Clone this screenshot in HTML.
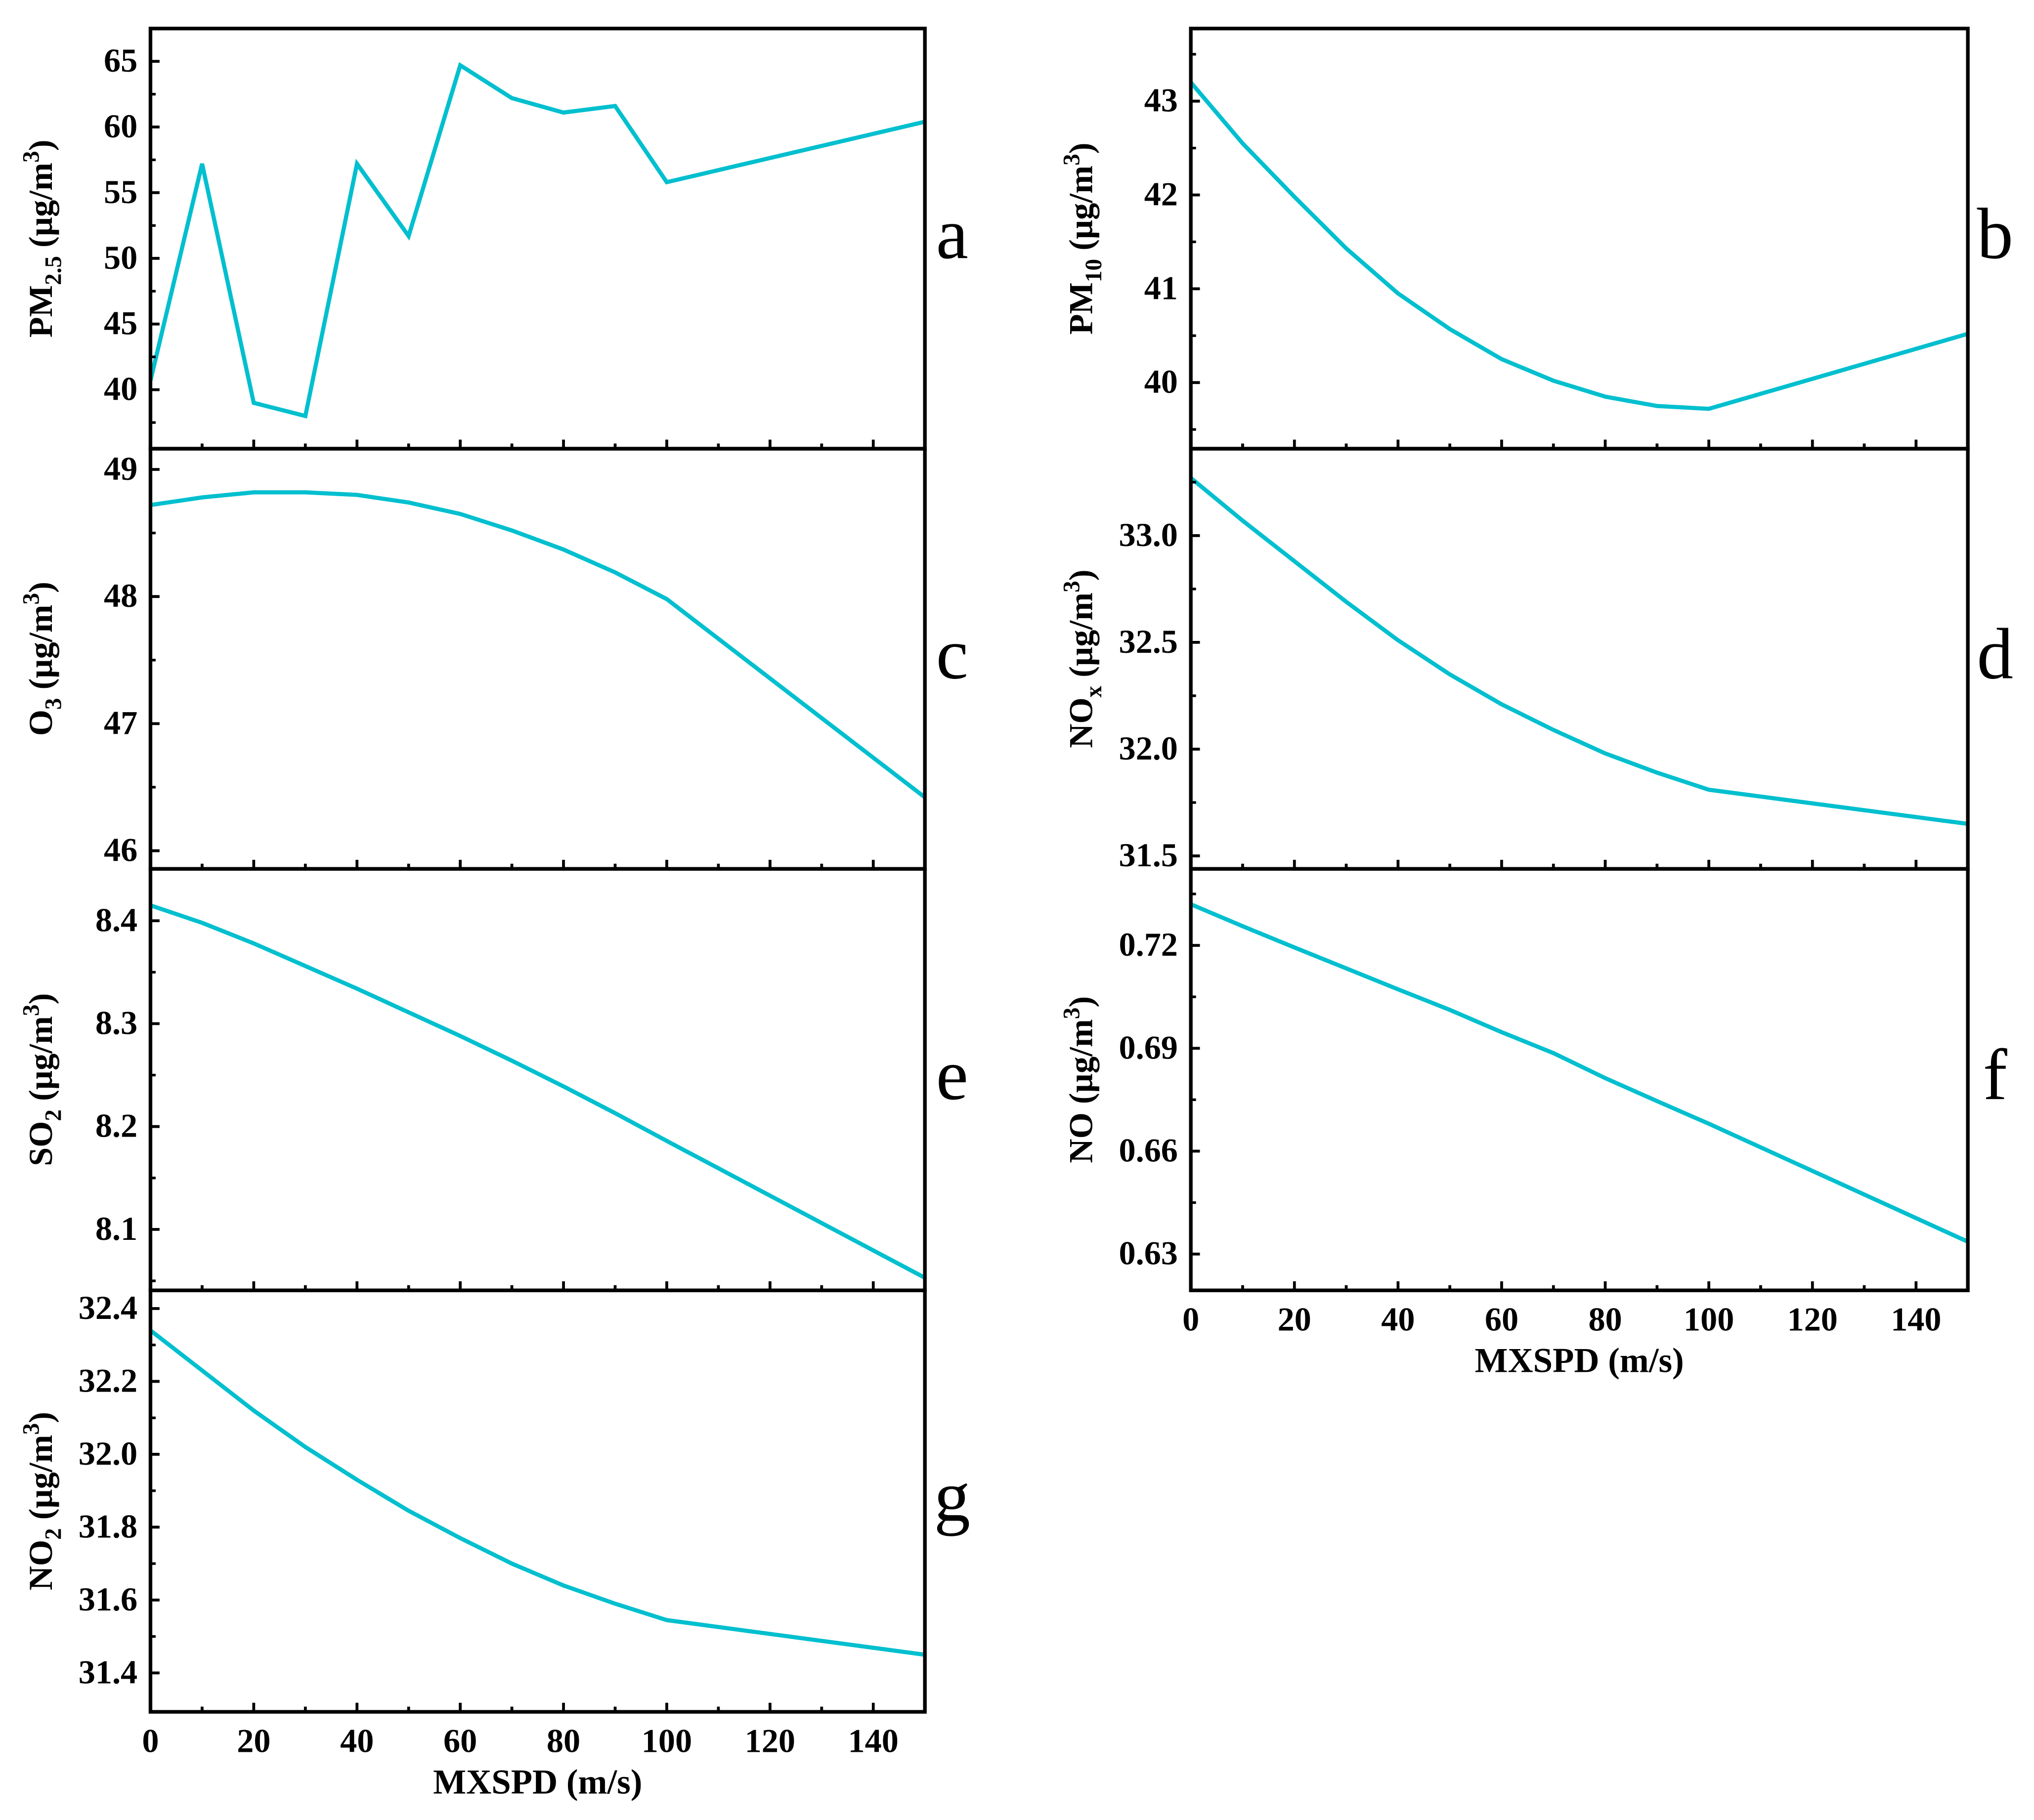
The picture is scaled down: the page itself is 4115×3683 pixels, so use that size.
<!DOCTYPE html>
<html><head><meta charset="utf-8">
<style>
html,body{margin:0;padding:0;background:#fff;}
svg{display:block;}
text{font-family:"Liberation Serif",serif;font-weight:bold;fill:#000;}
</style></head>
<body>
<svg id="chart" width="4115" height="3683" viewBox="0 0 1568 1403.4" preserveAspectRatio="none" xmlns="http://www.w3.org/2000/svg"></svg>
<script>
const xValues = [0,10,20,30,40,50,60,70,80,90,100,150];
const xTicks = [0,20,40,60,80,100,120,140];
const pm25Values = [40.7,57.2,39.0,38.0,57.2,51.7,64.7,62.2,61.1,61.6,55.8,60.4];
const pm10Values = [43.2,42.55,41.98,41.43,40.95,40.57,40.25,40.02,39.85,39.75,39.72,40.52];
const o3Values = [48.72,48.78,48.82,48.82,48.8,48.74,48.65,48.52,48.37,48.19,47.98,46.42];
const noxValues = [33.27,33.07,32.88,32.69,32.51,32.35,32.21,32.09,31.98,31.89,31.81,31.65];
const so2Values = [8.415,8.398,8.378,8.356,8.334,8.311,8.288,8.264,8.239,8.213,8.186,8.053];
const noValues = [0.732,0.7256,0.7194,0.7133,0.7072,0.7012,0.6947,0.6886,0.6813,0.6746,0.668,0.6336];
const no2Values = [32.34,32.23,32.12,32.02,31.93,31.845,31.77,31.70,31.64,31.59,31.545,31.45];
const pm25Ticks = [40,45,50,55,60,65];
const pm10Ticks = [40,41,42,43];
const o3Ticks = [46,47,48,49];
const noxTicks = [31.5,32.0,32.5,33.0];
const so2Ticks = [8.1,8.2,8.3,8.4];
const noTicks = [0.63,0.66,0.69,0.72];
const no2Ticks = [31.4,31.6,31.8,32.0,32.2,32.4];

const NS="http://www.w3.org/2000/svg";
const svg=document.getElementById('chart');
function mk(tag,attrs,parent){const e=document.createElementNS(NS,tag);for(const k in attrs)e.setAttribute(k,attrs[k]);(parent||svg).appendChild(e);return e;}

const panels=[
 {id:'a',vals:pm25Values,ticks:pm25Ticks,dec:0,x0:116,x1:713,y0:22,y1:346,r1:65,p1:47.3,r2:40,p2:300.5,title:['PM','2.5'],letter:'a',xlab:false},
 {id:'b',vals:pm10Values,ticks:pm10Ticks,dec:0,x0:918,x1:1517,y0:22,y1:346,r1:43,p1:78,r2:40,p2:295,title:['PM','10'],letter:'b',xlab:false},
 {id:'c',vals:o3Values,ticks:o3Ticks,dec:0,x0:116,x1:713,y0:346,y1:670,r1:49,p1:362,r2:46,p2:656,title:['O','3'],letter:'c',xlab:false},
 {id:'d',vals:noxValues,ticks:noxTicks,dec:1,x0:918,x1:1517,y0:346,y1:670,r1:33,p1:413,r2:31.5,p2:660,title:['NO','x'],letter:'d',xlab:false},
 {id:'e',vals:so2Values,ticks:so2Ticks,dec:1,x0:116,x1:713,y0:670,y1:995,r1:8.4,p1:710,r2:8.1,p2:948,title:['SO','2'],letter:'e',xlab:false},
 {id:'f',vals:noValues,ticks:noTicks,dec:2,x0:918,x1:1517,y0:670,y1:995,r1:0.72,p1:729,r2:0.63,p2:967,title:['NO',''],letter:'f',xlab:true},
 {id:'g',vals:no2Values,ticks:no2Ticks,dec:1,x0:116,x1:713,y0:995,y1:1320,r1:32.4,p1:1009,r2:31.4,p2:1290,title:['NO','2'],letter:'g',xlab:true}
];

panels.forEach(p=>{
  const g=mk('g',{});
  
  
  const xs=v=>p.x0+(v-0)/150*(p.x1-p.x0);
  const ys=v=>p.p1+(v-p.r1)/(p.r2-p.r1)*(p.p2-p.p1);
  const cp=mk('clipPath',{id:'clip-'+p.id},g);
  mk('rect',{x:p.x0,y:p.y0,width:p.x1-p.x0,height:p.y1-p.y0},cp);
  let d='';
  p.vals.forEach((v,i)=>{d+=(i?'L':'M')+xs(xValues[i]).toFixed(2)+','+ys(v).toFixed(2);});
  const line=mk('path',{d:d,fill:'none',stroke:'#00bfcf','stroke-width':3.2,'stroke-linejoin':'miter','clip-path':'url(#clip-'+p.id+')'},g);
  
  
  const fr=mk('rect',{x:p.x0,y:p.y0,width:p.x1-p.x0,height:p.y1-p.y0,fill:'none',stroke:'#000','stroke-width':2.8},g);
  
  
  const step=p.ticks[1]-p.ticks[0];
  for(let k=-1;k<p.ticks.length;k++){
    const v=p.ticks[0]+k*step;
    if(k>=0){
      const yy=ys(v);
      mk('line',{x1:p.x0,x2:p.x0+7,y1:yy,y2:yy,stroke:'#000','stroke-width':2.2},g);
      const t=mk('text',{x:p.x0-10,y:yy+8,'text-anchor':'end','font-size':26},g);
      t.textContent=v.toFixed(p.dec);
      
      
    }
    const ym=ys(v+step/2);
    if(ym>p.y0+2&&ym<p.y1-2) mk('line',{x1:p.x0,x2:p.x0+4,y1:ym,y2:ym,stroke:'#000','stroke-width':2},g);
  }
  for(let v=10;v<150;v+=10){
    const xx=xs(v);
    const major=v%20===0;
    mk('line',{x1:xx,x2:xx,y1:p.y1,y2:p.y1-(major?7:4),stroke:'#000','stroke-width':2.2},g);
  }
  if(p.xlab){
    xTicks.forEach(v=>{
      const t=mk('text',{x:xs(v),y:p.y1+31,'text-anchor':'middle','font-size':26},g);
      t.textContent=v;
      
      
    });
    const xt=mk('text',{x:(p.x0+p.x1)/2,y:p.y1+63,'text-anchor':'middle','font-size':27},g);
    xt.textContent='MXSPD (m/s)';
    
    
  }
  const cx=p.x0-76, cy=(p.y0+p.y1)/2;
  const yt=mk('text',{x:cx,y:cy,'text-anchor':'middle','font-size':26,transform:'rotate(-90 '+cx+' '+cy+')'},g);
  
  
  const s1=mk('tspan',{},yt);s1.textContent=p.title[0];
  if(p.title[1]){const s2=mk('tspan',{dy:7,'font-size':18},yt);s2.textContent=p.title[1];}
  const s3=mk('tspan',{dy:p.title[1]?-7:0},yt);s3.textContent=' (\u00b5g/m';
  const s4=mk('tspan',{dy:-10,'font-size':18},yt);s4.textContent='3';
  const s5=mk('tspan',{dy:10},yt);s5.textContent=')';
  const lt=mk('text',{x:p.x1+21,y:cy+15,'text-anchor':'middle','font-size':56},g);
  lt.style.fontWeight='normal';
  lt.textContent=p.letter;
  
  
});
</script>
</body></html>
